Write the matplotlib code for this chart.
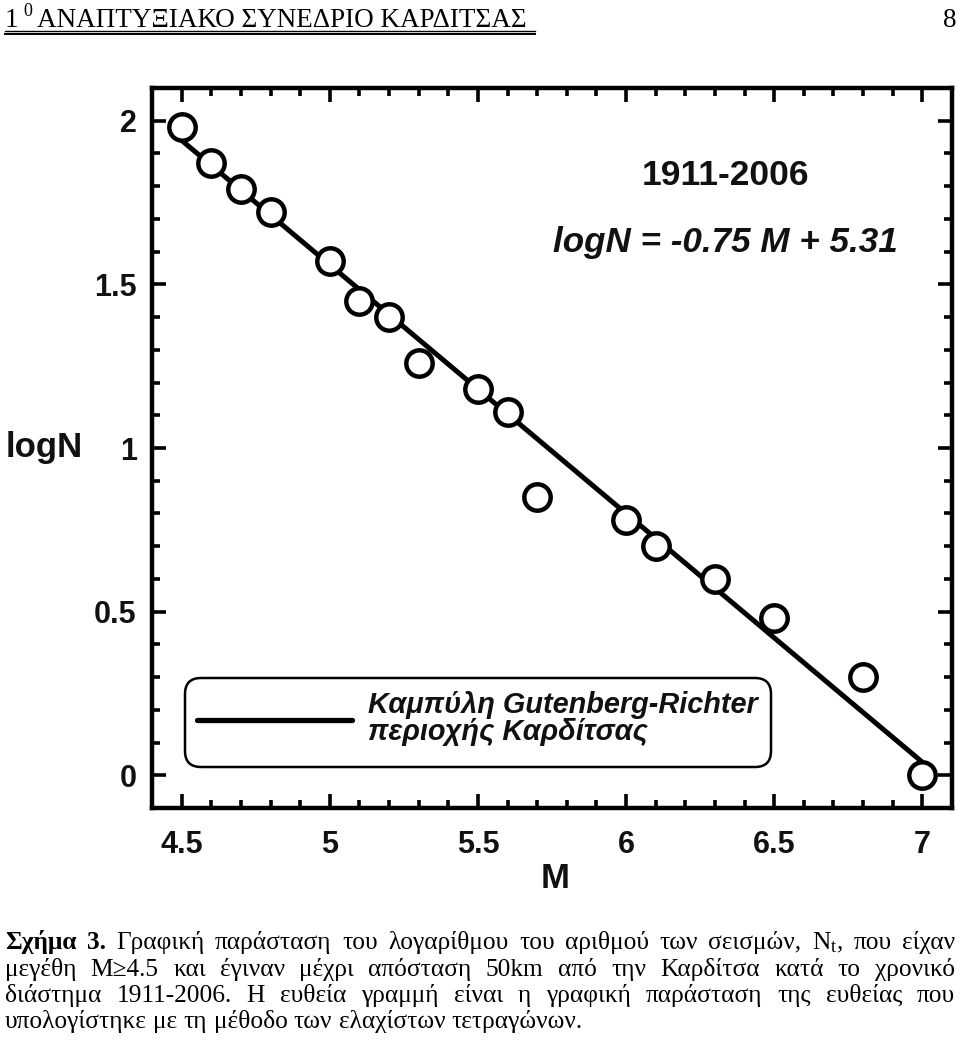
import matplotlib
matplotlib.use("Agg")
import matplotlib.pyplot as plt
from matplotlib.patches import FancyBboxPatch
from matplotlib.lines import Line2D
from matplotlib.transforms import IdentityTransform
from matplotlib.ticker import MultipleLocator

# Observed magnitudes and log10 of cumulative counts, Karditsa 1911-2006
mag = [4.5, 4.6, 4.7, 4.8, 5.0, 5.1, 5.2, 5.3, 5.5, 5.6, 5.7, 6.0, 6.1, 6.3, 6.5, 6.8, 7.0]
logn = [1.98, 1.87, 1.79, 1.72, 1.57, 1.45, 1.40, 1.26, 1.18, 1.11, 0.85,
        0.78, 0.70, 0.60, 0.48, 0.30, 0.00]

# least-squares line endpoints as drawn
fit_m = [4.5, 7.0]
fit_logn = [1.94, 0.04]

x_ticks = [4.5, 5, 5.5, 6, 6.5, 7]
x_ticklabels = ["4.5", "5", "5.5", "6", "6.5", "7"]
y_ticks = [0, 0.5, 1, 1.5, 2]
y_ticklabels = ["0", "0.5", "1", "1.5", "2"]

period_text = "1911-2006"
equation_text = "logN = -0.75 M + 5.31"
legend_lines = ["Καμπύλη Gutenberg-Richter", "περιοχής Καρδίτσας"]

header_text = "ΑΝΑΠΤΥΞΙΑΚΟ ΣΥΝΕΔΡΙΟ ΚΑΡΔΙΤΣΑΣ"
page_number = "8"

caption_lines = [
    ["Σχήμα", "3.", "Γραφική", "παράσταση", "του", "λογαρίθμου", "του", "αριθμού",
     "των", "σεισμών,", r"N$_{\mathrm{t}}$,", "που", "είχαν"],
    "μεγέθη Μ≥4.5 και έγιναν μέχρι απόσταση 50km από την Καρδίτσα κατά το χρονικό".split(),
    "διάστημα 1911-2006. Η ευθεία γραμμή είναι η γραφική παράσταση της ευθείας που".split(),
    "υπολογίστηκε με τη μέθοδο των ελαχίστων τετραγώνων.".split(),
]
caption_bold = {"Σχήμα", "3."}

W, H = 960, 1048
SANS = ["Liberation Sans", "DejaVu Sans"]
SERIF = ["Liberation Serif", "DejaVu Serif"]
INK = "#111111"

plt.rcParams["mathtext.fontset"] = "custom"
plt.rcParams["mathtext.rm"] = "Liberation Serif"
plt.rcParams["mathtext.it"] = "Liberation Serif:italic"

fig = plt.figure(figsize=(W / 100, H / 100), dpi=100)
fig.patch.set_facecolor("white")


def px(x, y):
    """page pixel coords (origin top-left) -> figure fraction"""
    return x / W, 1 - y / H


# ---- plot area ----
ax = fig.add_axes([152 / W, (H - 808) / H, 800 / W, 720 / H])
ax.plot(fit_m, fit_logn, color="black", lw=3.6, solid_capstyle="butt", zorder=2)
ax.plot(mag, logn, linestyle="none", marker="o", ms=19, mew=3.2,
        mfc="white", mec="black", zorder=3, clip_on=False)

ax.set_xlim(4.4, 7.1)
ax.set_ylim(-0.1, 2.1)
ax.set_xticks(x_ticks)
ax.set_xticklabels(x_ticklabels)
ax.set_yticks(y_ticks)
ax.set_yticklabels(y_ticklabels)
ax.xaxis.set_minor_locator(MultipleLocator(0.1))
ax.yaxis.set_minor_locator(MultipleLocator(0.1))
ax.tick_params(which="both", direction="in", top=True, right=True, width=2.6, color="black")
ax.tick_params(which="major", length=10)
ax.tick_params(which="minor", length=5.5)
ax.tick_params(axis="x", which="major", pad=16)
ax.tick_params(axis="y", which="major", pad=11)
for lab in ax.get_xticklabels() + ax.get_yticklabels():
    lab.set_family(SANS)
    lab.set_fontweight("bold")
    lab.set_fontsize(22)
    lab.set_color(INK)
for s in ax.spines.values():
    s.set_linewidth(3.2)

ax.set_xlabel("M", family=SANS, fontweight="bold", fontsize=25, color=INK)
ax.xaxis.set_label_coords((555 - 152) / 800, (808 - 878) / 720)
ax.xaxis.label.set_va("center")
ax.set_ylabel("logN", family=SANS, fontweight="bold", fontsize=25, rotation=0, color=INK)
ax.yaxis.set_label_coords((44 - 152) / 800, (808 - 447) / 720)
ax.yaxis.label.set_va("center")
ax.yaxis.label.set_ha("center")

fig.text(*px(725, 185), period_text, family=SANS, fontweight="bold", fontsize=25.5,
         ha="center", va="baseline", color=INK)
fig.text(*px(725, 252), equation_text, family=SANS, fontweight="bold", style="italic",
         fontsize=25.2, ha="center", va="baseline", color=INK)

# legend box drawn in pixel space
box = FancyBboxPatch((185, H - 767), 586, 89, boxstyle="round,pad=0,rounding_size=16",
                     transform=IdentityTransform(), fc="white", ec="black", lw=1.8,
                     zorder=5)
fig.add_artist(box)
fig.add_artist(Line2D([197, 352], [H - 720, H - 720], transform=IdentityTransform(),
                      color="black", lw=3.8, solid_capstyle="round", zorder=6))
fig.text(*px(368, 713), legend_lines[0], family=SANS, fontweight="bold", style="italic",
         fontsize=20.8, va="baseline", color=INK, zorder=6)
fig.text(*px(368, 740), legend_lines[1], family=SANS, fontweight="bold", style="italic",
         fontsize=20.8, va="baseline", color=INK, zorder=6)

# ---- page header ----
hdr_fs = 19.5
fig.text(*px(5, 27), "1", family=SERIF, fontsize=hdr_fs, va="baseline")
fig.text(*px(23, 16), "0", family=SERIF, fontsize=13, va="baseline")
fig.text(*px(37, 27), header_text, family=SERIF, fontsize=hdr_fs, va="baseline")
fig.text(*px(956, 27), page_number, family=SERIF, fontsize=hdr_fs, va="baseline", ha="right")
for yy, lw in [(31, 1.0), (34, 1.4)]:
    fig.add_artist(Line2D([5, 535], [H - yy, H - yy], transform=IdentityTransform(),
                          color="black", lw=lw))

# ---- justified caption ----
renderer = fig.canvas.get_renderer()
cap_fs = 18.3
baselines = [949, 976, 1002, 1028]
x_left, x_right = 5, 955
for i, (words, yb) in enumerate(zip(caption_lines, baselines)):
    objs = []
    for w in words:
        weight = "bold" if (i == 0 and w in caption_bold) else "normal"
        t = fig.text(0, 1 - yb / H, w, family=SERIF, fontsize=cap_fs,
                     fontweight=weight, va="baseline")
        objs.append(t)
    widths = [t.get_window_extent(renderer).width for t in objs]
    if i < len(caption_lines) - 1:
        gap = (x_right - x_left - sum(widths)) / (len(objs) - 1)
    else:
        gap = 0.25 * cap_fs * 100 / 72
    x = x_left
    for t, wd in zip(objs, widths):
        t.set_x(x / W)
        x += wd + gap

fig.savefig("out.png", dpi=100, facecolor="white")
